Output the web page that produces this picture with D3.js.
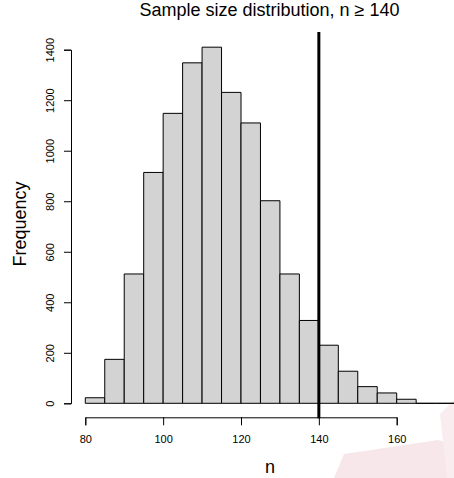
<!DOCTYPE html>
<html>
<head>
<meta charset="utf-8">
<script src="https://cdn.jsdelivr.net/npm/d3@7/dist/d3.min.js"></script>
<style>
  html, body { margin: 0; padding: 0; background: #fff; }
  svg { display: block; font-family: "Liberation Sans", Arial, Helvetica, sans-serif; }
</style>
</head>
<body>
<svg id="chart" width="454" height="478"></svg>
<script>
// Histogram bins (width 5) and their counts
const binStarts = [80, 85, 90, 95, 100, 105, 110, 115, 120, 125, 130, 135, 140, 145, 150, 155, 160, 165, 170, 175];
const binWidth = 5;
const counts = [22, 174, 512, 914, 1148, 1348, 1410, 1231, 1110, 802, 512, 328, 230, 127, 66, 41, 16, 0, 0, 0];
const xTicks = [80, 100, 120, 140, 160];
const yTicks = [0, 200, 400, 600, 800, 1000, 1200, 1400];
const threshold = 140;

const svg = d3.select("#chart");

const x = d3.scaleLinear().domain([80, 160]).range([85.3, 396.7]);
const y = d3.scaleLinear().domain([0, 1400]).range([403.3, 49.7]);

// soft pink background shapes in the lower right corner
const deco = svg.append("g").attr("fill", "#f7e7eb");
deco.append("path").attr("d", "M334,478 L344,454 L438,440 L454,444 L454,478 Z");
deco.append("path").attr("d", "M440,414 L454,400 L454,478 L447,478 Z").attr("fill", "#f9edf0");

// bars (paths, so empty bins still show as a flat outline)
svg.append("g")
  .selectAll("path")
  .data(binStarts.map((s, i) => ({ s, c: counts[i] })))
  .join("path")
  .attr("d", d => {
    const x0 = x(d.s), x1 = x(d.s + binWidth), y0 = y(0), y1 = y(d.c);
    return `M${x0},${y0}L${x0},${y1}L${x1},${y1}L${x1},${y0}Z`;
  })
  .attr("fill", "#d3d3d3")
  .attr("stroke", "#000")
  .attr("stroke-width", 1);

// x axis
const xAxis = svg.append("g").attr("transform", "translate(0,417.3)")
  .call(d3.axisBottom(x).tickValues(xTicks).tickFormat(d3.format("d"))
    .tickSizeOuter(0).tickSize(8).tickPadding(10));
xAxis.select(".domain").attr("stroke", "#000");
xAxis.selectAll("text").attr("font-size", "11px").attr("fill", "#000")
  .attr("font-family", "Liberation Sans, Arial, sans-serif");

// y axis with rotated labels
const yAxis = svg.append("g").attr("transform", "translate(71,0)")
  .call(d3.axisLeft(y).tickValues(yTicks).tickFormat(d3.format("d"))
    .tickSizeOuter(0).tickSize(7));
yAxis.select(".domain").attr("stroke", "#000");
yAxis.selectAll(".tick text")
  .attr("font-size", "11px").attr("fill", "#000")
  .attr("font-family", "Liberation Sans, Arial, sans-serif")
  .attr("x", null).attr("dy", null)
  .attr("text-anchor", "middle")
  .attr("transform", "translate(-17,0) rotate(-90)");

// threshold line
svg.append("line")
  .attr("x1", x(threshold)).attr("x2", x(threshold))
  .attr("y1", 32).attr("y2", 418.3)
  .attr("stroke", "#000").attr("stroke-width", 3);

// title
svg.append("text")
  .attr("x", 269.5).attr("y", 16)
  .attr("text-anchor", "middle")
  .attr("font-size", "18px")
  .text("Sample size distribution, n \u2265 140");

// axis titles
svg.append("text")
  .attr("x", 270).attr("y", 473)
  .attr("text-anchor", "middle")
  .attr("font-size", "18px")
  .text("n");

svg.append("text")
  .attr("transform", "translate(26,224) rotate(-90)")
  .attr("text-anchor", "middle")
  .attr("font-size", "18px")
  .text("Frequency");
</script>
</body>
</html>
